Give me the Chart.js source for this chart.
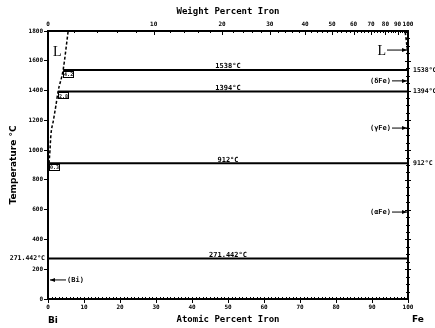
<!DOCTYPE html>
<html>
<head>
<meta charset="utf-8">
<script src="https://cdn.jsdelivr.net/npm/chart.js@4/dist/chart.umd.min.js"></script>
<style>
  html, body { margin: 0; padding: 0; background: #fff; }
  #wrap { width: 435px; height: 328px; }
</style>
</head>
<body>
<div id="wrap"><canvas id="c" width="435" height="328"></canvas></div>
<script>
// Bi-Fe phase diagram: invariant / allotropic isotherms
const ISO_T = [1538, 1394, 912, 271.442];
const ISO_LABEL = ['1538°C', '1394°C', '912°C', '271.442°C'];
const ISO_SIDE = ['right', 'right', 'right', 'left'];
const ISO_START = [4.2, 2.8, 0.3, 0];       // at.% Fe where each isotherm begins
const ISO_BOX = ['4.2', '2.8', '0.3', null]; // composition boxes on the liquidus

// Liquidus, Bi-rich side (at.% Fe, °C)
const LIQ_BI_AT = [0.3, 0.55, 0.8, 1.5, 2.2, 2.8, 4.2, 5.6];
const LIQ_BI_T = [912, 1000, 1100, 1200, 1300, 1394, 1538, 1800];
// Liquidus, Fe-rich side
const LIQ_FE_AT = [100, 99.9, 99.2];
const LIQ_FE_T = [1538, 1660, 1800];

// Phase fields pointed at on the Fe axis
const PHASE_LABEL = ['L', '(δFe)', '(γFe)', '(αFe)'];
const PHASE_T = [1672, 1465, 1148, 584];
const BI_PHASE_LABEL = '(Bi)';
const BI_PHASE_T = 128;

// Axis ticks
const AT_TICKS = [0, 10, 20, 30, 40, 50, 60, 70, 80, 90, 100];
const WT_TICKS = [0, 10, 20, 30, 40, 50, 60, 70, 80, 90, 100];
const T_MIN = 0, T_MAX = 1800, T_STEP = 200;

const M_BI = 208.98, M_FE = 55.845;
function wtToAt(w) {
  if (w >= 100) return 100;
  const nFe = w / M_FE, nBi = (100 - w) / M_BI;
  return 100 * nFe / (nFe + nBi);
}

const MONO = '"DejaVu Sans Mono", monospace';
const SANS = '"DejaVu Sans", sans-serif';

function seg(xs, ts) { return xs.map((a, i) => ({ x: a, y: ts[i] })); }

const datasets = [];
ISO_T.forEach((t, i) => {
  datasets.push({
    data: [{ x: ISO_START[i], y: t }, { x: 100, y: t }],
    borderColor: '#000', borderWidth: 2, pointRadius: 0, showLine: true, fill: false
  });
});
datasets.push({
  data: seg(LIQ_BI_AT, LIQ_BI_T),
  borderColor: '#000', borderWidth: 1.5, borderDash: [3, 2], pointRadius: 0,
  showLine: true, fill: false, tension: 0.3, cubicInterpolationMode: 'monotone'
});
datasets.push({
  data: seg(LIQ_FE_AT, LIQ_FE_T),
  borderColor: '#000', borderWidth: 1.5, borderDash: [3, 2], pointRadius: 0,
  showLine: true, fill: false
});

function arrowHead(ctx, x, y, dir) {
  ctx.beginPath();
  ctx.moveTo(x, y);
  ctx.lineTo(x - dir * 5, y - 2);
  ctx.lineTo(x - dir * 5, y + 2);
  ctx.closePath();
  ctx.fill();
}

const annotations = {
  id: 'annotations',
  afterDatasetsDraw(chart) {
    const { ctx } = chart;
    const { x, y } = chart.scales;
    const ca = chart.chartArea;
    ctx.save();
    ctx.fillStyle = '#000';
    ctx.strokeStyle = '#000';

    // minor ticks
    ctx.lineWidth = 1;
    ctx.beginPath();
    for (let a = 1; a < 100; a++) {
      const px = Math.round(x.getPixelForValue(a)) + 0.5;
      ctx.moveTo(px, ca.bottom); ctx.lineTo(px, ca.bottom - 2);
    }
    for (let w = 2; w < 100; w += 2) {
      const px = Math.round(x.getPixelForValue(wtToAt(w))) + 0.5;
      const len = (w % 10 === 0) ? 4 : 2;
      ctx.moveTo(px, ca.top); ctx.lineTo(px, ca.top + len);
    }
    for (let t = 50; t < T_MAX; t += 50) {
      const py = Math.round(y.getPixelForValue(t)) + 0.5;
      const len = (t % 200 === 0) ? 3 : 2;
      ctx.moveTo(ca.right - len, py); ctx.lineTo(ca.right + len, py);
    }
    ctx.stroke();

    // isotherm labels
    ISO_T.forEach((t, i) => {
      const py = y.getPixelForValue(t);
      ctx.font = 'bold 7px ' + MONO;
      ctx.textAlign = 'center';
      ctx.textBaseline = 'bottom';
      ctx.fillText(ISO_LABEL[i], x.getPixelForValue(50), py);
      ctx.font = 'bold 6.5px ' + MONO;
      ctx.textBaseline = 'middle';
      if (ISO_SIDE[i] === 'right') {
        ctx.textAlign = 'left';
        ctx.fillText(ISO_LABEL[i], ca.right + 5, py);
      } else {
        ctx.textAlign = 'right';
        ctx.fillText(ISO_LABEL[i], ca.left - 3, py);
      }
      if (ISO_BOX[i]) {
        const px = x.getPixelForValue(ISO_START[i]);
        ctx.lineWidth = 1;
        ctx.strokeRect(Math.round(px) + 0.5, Math.round(py) + 1.5, 10, 6);
        ctx.font = 'bold 5px ' + MONO;
        ctx.textAlign = 'center';
        ctx.fillText(ISO_BOX[i], px + 5.5, py + 4.8);
      }
    });

    // phase field pointers on the Fe side
    PHASE_T.forEach((t, i) => {
      const py = y.getPixelForValue(t);
      const isL = PHASE_LABEL[i] === 'L';
      const x0 = ca.right - (isL ? 21 : 16);
      ctx.lineWidth = 1;
      ctx.beginPath();
      ctx.moveTo(x0, py); ctx.lineTo(ca.right - 1, py);
      ctx.stroke();
      arrowHead(ctx, ca.right - 1, py, 1);
      ctx.textAlign = 'right';
      ctx.textBaseline = 'middle';
      ctx.font = isL ? '14px "Liberation Serif", serif' : 'bold 7px ' + MONO;
      ctx.fillText(PHASE_LABEL[i], x0 - 1, py + (isL ? 1 : 0));
    });

    // (Bi) pointer on the Bi axis
    {
      const py = y.getPixelForValue(BI_PHASE_T);
      const x1 = ca.left + 18;
      ctx.beginPath();
      ctx.moveTo(x1, py); ctx.lineTo(ca.left + 2, py);
      ctx.stroke();
      arrowHead(ctx, ca.left + 2, py, -1);
      ctx.font = 'bold 7px ' + MONO;
      ctx.textAlign = 'left';
      ctx.textBaseline = 'middle';
      ctx.fillText(BI_PHASE_LABEL, x1 + 1, py);
    }

    // liquid label on the Bi side
    ctx.font = '14px "Liberation Serif", serif';
    ctx.textAlign = 'left';
    ctx.textBaseline = 'middle';
    ctx.fillText('L', x.getPixelForValue(1.4), y.getPixelForValue(1660));

    // end-member labels
    ctx.font = 'bold 9px ' + SANS;
    ctx.textBaseline = 'middle';
    ctx.fillText('Bi', ca.left, 321);
    ctx.fillText('Fe', ca.right + 4, 320);

    ctx.restore();
  }
};

const tickFont = { family: MONO, size: 6, weight: 'bold' };
const titleFont = { family: MONO, size: 9, weight: 'bold' };

new Chart(document.getElementById('c'), {
  type: 'scatter',
  data: { datasets },
  options: {
    responsive: false,
    animation: false,
    devicePixelRatio: 1,
    layout: { padding: 0 },
    plugins: { legend: { display: false }, tooltip: { enabled: false } },
    scales: {
      x: {
        type: 'linear', position: 'bottom', min: 0, max: 100,
        afterBuildTicks: s => { s.ticks = AT_TICKS.map(v => ({ value: v })); },
        ticks: { font: tickFont, color: '#000', padding: 1, maxRotation: 0, autoSkip: false,
                 callback: v => String(v) },
        grid: { drawOnChartArea: false, tickLength: 4, color: '#000', tickColor: '#000' },
        border: { color: '#000', width: 2 },
        title: { display: true, text: 'Atomic Percent Iron', font: titleFont, color: '#000', padding: { top: 0, bottom: 3 } },
        afterFit: s => { s.height = 29; }
      },
      x2: {
        type: 'linear', position: 'top', min: 0, max: 100,
        afterBuildTicks: s => { s.ticks = WT_TICKS.map(w => ({ value: wtToAt(w) })); },
        ticks: { font: tickFont, color: '#000', padding: 3, maxRotation: 0, autoSkip: false,
                 callback: (v, i) => String(WT_TICKS[i]) },
        grid: { drawOnChartArea: false, drawTicks: false, color: '#000' },
        border: { color: '#000', width: 2 },
        title: { display: true, text: 'Weight Percent Iron', font: titleFont, color: '#000', padding: { top: 6, bottom: 0 } },
        afterFit: s => { s.height = 31; }
      },
      y: {
        type: 'linear', position: 'left', min: T_MIN, max: T_MAX,
        ticks: { stepSize: T_STEP, font: tickFont, color: '#000', padding: 1,
                 callback: v => String(v) },
        grid: { drawOnChartArea: false, tickLength: 4, color: '#000', tickColor: '#000' },
        border: { color: '#000', width: 2 },
        title: { display: true, text: 'Temperature °C', font: { family: SANS, size: 9, weight: 'bold' }, color: '#000', padding: { top: 8, bottom: 0 } },
        afterFit: s => { s.width = 48; }
      },
      y2: {
        type: 'linear', position: 'right', min: T_MIN, max: T_MAX,
        ticks: { display: false, stepSize: T_STEP },
        grid: { drawOnChartArea: false, drawTicks: false },
        border: { color: '#000', width: 2 },
        afterFit: s => { s.width = 27; }
      }
    }
  },
  plugins: [annotations]
});
</script>
</body>
</html>
